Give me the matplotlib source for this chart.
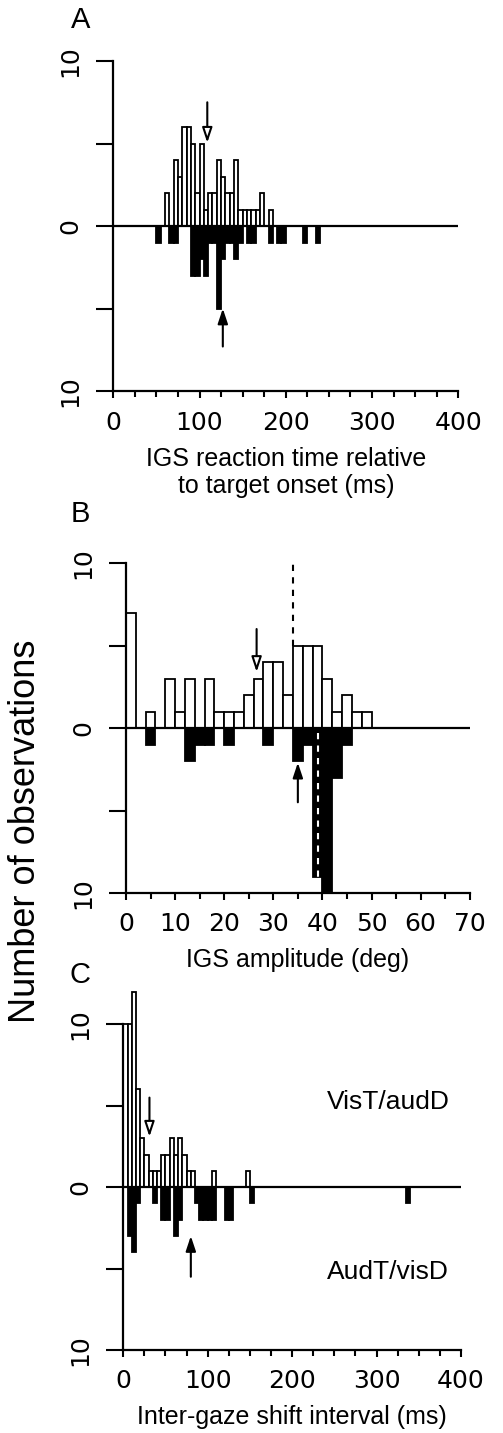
import numpy as np
import matplotlib
matplotlib.use('Agg')
import matplotlib.pyplot as plt

plt.rcParams['font.family'] = ['Liberation Sans', 'DejaVu Sans']

# Panel A: IGS reaction time (ms), 5 ms bins (left edges)
a_up_left = [60, 70, 75, 80, 85, 90, 95, 100, 105, 110, 115, 120, 125, 130, 135,
             140, 145, 150, 155, 160, 165, 170, 180]
a_up_count = [2, 4, 3, 6, 6, 5, 2, 5, 1, 2, 2, 4, 3, 2, 2,
              4, 1, 1, 1, 1, 1, 2, 1]
a_down_left = [50, 65, 70, 90, 95, 100, 105, 110, 115, 120, 125, 130, 135, 140,
               145, 155, 160, 180, 190, 195, 220, 235]
a_down_count = [1, 1, 1, 3, 3, 2, 3, 1, 1, 5, 2, 1, 1, 2,
                1, 1, 1, 1, 1, 1, 1, 1]

# Panel B: IGS amplitude (deg), 2 deg bins
b_up_left = [0, 4, 8, 10, 12, 16, 18, 20, 22, 24, 26, 28, 30, 32, 34, 36, 38,
             40, 42, 44, 46, 48]
b_up_count = [7, 1, 3, 1, 3, 3, 1, 1, 1, 2, 3, 4, 4, 2, 5, 5, 5,
              3, 1, 2, 1, 1]
b_down_left = [4, 12, 14, 16, 20, 28, 34, 36, 38, 40, 42, 44]
b_down_count = [1, 2, 1, 1, 1, 1, 2, 1, 9, 10, 3, 1]

# Panel C: inter-gaze shift interval (ms), 5 ms bins
c_up_left = [0, 5, 10, 15, 20, 25, 30, 35, 40, 45, 50, 55, 60, 65, 70, 75, 80,
             105, 145]
c_up_count = [10, 10, 12, 6, 3, 2, 1, 1, 1, 2, 2, 3, 2, 3, 2, 1, 1,
              1, 1]
c_down_left = [5, 10, 15, 35, 45, 50, 60, 65, 85, 90, 95, 100, 105, 120, 125,
               150, 335]
c_down_count = [3, 4, 1, 1, 2, 2, 3, 2, 1, 2, 2, 2, 2, 2, 2,
                1, 1]

# medians (arrows)
a_open_x, a_fill_x = 109, 127
b_open_x, b_fill_x = 26.6, 35
c_open_x, c_fill_x = 31, 80

fig = plt.figure(figsize=(5.03, 14.33), dpi=100)
axA = fig.add_axes([0.2252, 0.7271, 0.6859, 0.2303])
axB = fig.add_axes([0.2505, 0.3768, 0.6833, 0.2303])
axC = fig.add_axes([0.2451, 0.0579, 0.6714, 0.2273])

tick_font = {'family': 'DejaVu Sans', 'size': 18}


def panel(ax, up_left, up_count, down_left, down_count, width, xmax, minor, major):
    ax.bar(up_left, up_count, width=width, align='edge', color='white',
           edgecolor='black', linewidth=1.3, clip_on=False, zorder=2)
    ax.bar(down_left, -np.array(down_count), width=width, align='edge',
           color='black', edgecolor='black', linewidth=1.3, clip_on=False, zorder=2)
    ax.axhline(0, color='black', lw=1.6, zorder=3)
    ax.set_xlim(0, xmax)
    ax.set_ylim(-10, 10)
    for s in ['top', 'right']:
        ax.spines[s].set_visible(False)
    for s in ['left', 'bottom']:
        ax.spines[s].set_linewidth(1.6)
    ax.set_xticks(np.arange(0, xmax + 0.1, major))
    ax.set_xticks(np.arange(0, xmax + 0.1, minor), minor=True)
    ax.set_xticklabels([str(int(v)) for v in np.arange(0, xmax + 0.1, major)],
                       fontdict=tick_font)
    ax.set_yticks([-10, 0, 10])
    ax.set_yticks([-5, 5], minor=True)
    ax.set_yticklabels(['10', '0', '10'], fontdict=tick_font, rotation=90,
                       va='center')
    ax.tick_params(axis='y', which='both', direction='out', length=12, width=1.5,
                   pad=10)
    ax.tick_params(axis='x', which='major', direction='out', length=5, width=1.5,
                   pad=9)
    ax.tick_params(axis='x', which='minor', direction='out', length=4, width=1.5)
    ax.patch.set_alpha(0)


def arrow(ax, x, y0, y1, filled):
    ax.annotate('', xy=(x, y1), xytext=(x, y0),
                arrowprops=dict(arrowstyle='-|>,head_length=0.9,head_width=0.3',
                                lw=1.5, fc='black' if filled else 'white',
                                ec='black', shrinkA=0, shrinkB=0),
                annotation_clip=False, zorder=5)


panel(axA, a_up_left, a_up_count, a_down_left, a_down_count, 5, 400, 25, 100)
panel(axB, b_up_left, b_up_count, b_down_left, b_down_count, 2, 70, 5, 10)
panel(axC, c_up_left, c_up_count, c_down_left, c_down_count, 5, 400, 25, 100)

axA.set_xlabel('IGS reaction time relative\nto target onset (ms)', fontsize=18,
               linespacing=1.15, labelpad=9)
axB.set_xlabel('IGS amplitude (deg)', fontsize=18, labelpad=8)
axC.set_xlabel('Inter-gaze shift interval (ms)', fontsize=18, labelpad=8)

arrow(axA, a_open_x, 7.5, 5.05, False)
arrow(axA, a_fill_x, -7.3, -5.0, True)
arrow(axB, b_open_x, 6.0, 3.4, False)
arrow(axB, b_fill_x, -4.5, -2.1, True)
arrow(axC, c_open_x, 5.5, 3.1, False)
arrow(axC, c_fill_x, -5.5, -3.0, True)

axB.plot([34, 34], [5, 10], ls=(0, (3, 3)), color='black', lw=1.5)
axB.plot([39.2, 39.2], [-0.3, -9], ls=(0, (3, 3)), color='white', lw=1.5, zorder=4)

axC.text(241, 5.2, 'VisT/audD', fontsize=19, ha='left', va='center')
axC.text(241, -5.2, 'AudT/visD', fontsize=19, ha='left', va='center')

fig.text(0.16, 0.986, 'A', fontsize=21, ha='center', va='center')
fig.text(0.16, 0.641, 'B', fontsize=21, ha='center', va='center')
fig.text(0.16, 0.3196, 'C', fontsize=21, ha='center', va='center')
fig.text(0.05, 0.42, 'Number of observations', fontsize=26, rotation=90,
         ha='center', va='center')

fig.savefig('out.png', dpi=100)
